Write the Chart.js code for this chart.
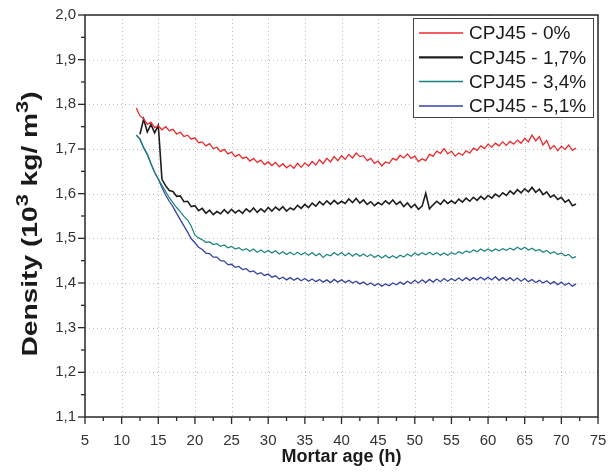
<!DOCTYPE html>
<html>
<head>
<meta charset="utf-8">
<script src="https://cdn.jsdelivr.net/npm/chart.js@4.4.0/dist/chart.umd.min.js"></script>
<style>
  html, body { margin: 0; padding: 0; background: #fff; }
</style>
</head>
<body>
<canvas id="densityChart" width="608" height="473"></canvas>
<script>
// mortar age (h)
const hours = [
  12, 12.5, 13, 13.5, 14, 14.5, 15, 15.5, 16, 16.5, 17, 17.5, 18, 18.5, 19, 19.5,
  20, 20.5, 21, 21.5, 22, 22.5, 23, 23.5, 24, 24.5, 25, 25.5, 26, 26.5, 27, 27.5,
  28, 28.5, 29, 29.5, 30, 30.5, 31, 31.5, 32, 32.5, 33, 33.5, 34, 34.5, 35, 35.5,
  36, 36.5, 37, 37.5, 38, 38.5, 39, 39.5, 40, 40.5, 41, 41.5, 42, 42.5, 43, 43.5,
  44, 44.5, 45, 45.5, 46, 46.5, 47, 47.5, 48, 48.5, 49, 49.5, 50, 50.5, 51, 51.5,
  52, 52.5, 53, 53.5, 54, 54.5, 55, 55.5, 56, 56.5, 57, 57.5, 58, 58.5, 59, 59.5,
  60, 60.5, 61, 61.5, 62, 62.5, 63, 63.5, 64, 64.5, 65, 65.5, 66, 66.5, 67, 67.5,
  68, 68.5, 69, 69.5, 70, 70.5, 71, 71.5, 72
];

// density (10^3 kg/m3)
const cpj0 = [
  1.792, 1.774, 1.768, 1.755, 1.760, 1.748, 1.752, 1.743, 1.750, 1.741, 1.744, 1.733, 1.738, 1.728, 1.731, 1.722,
  1.725, 1.714, 1.716, 1.707, 1.712, 1.701, 1.704, 1.694, 1.699, 1.689, 1.693, 1.683, 1.688, 1.679, 1.682, 1.673,
  1.679, 1.670, 1.675, 1.665, 1.671, 1.663, 1.670, 1.660, 1.667, 1.658, 1.664, 1.657, 1.668, 1.659, 1.669, 1.662,
  1.672, 1.664, 1.676, 1.667, 1.679, 1.671, 1.683, 1.674, 1.685, 1.677, 1.688, 1.680, 1.691, 1.683, 1.685, 1.674,
  1.679, 1.668, 1.673, 1.662, 1.671, 1.668, 1.679, 1.675, 1.686, 1.680, 1.689, 1.679, 1.684, 1.672, 1.678, 1.674,
  1.688, 1.684, 1.695, 1.690, 1.701, 1.689, 1.695, 1.684, 1.691, 1.686, 1.696, 1.691, 1.702, 1.697, 1.707, 1.701,
  1.711, 1.704, 1.713, 1.707, 1.716, 1.708, 1.717, 1.711, 1.720, 1.713, 1.724, 1.716, 1.731, 1.718, 1.728, 1.709,
  1.719, 1.700, 1.708, 1.696, 1.706, 1.699, 1.709, 1.697, 1.702
];
const cpj17 = [
  null, 1.733, 1.767, 1.738, 1.755, 1.736, 1.753, 1.632, 1.618, 1.607, 1.605, 1.594, 1.595, 1.582, 1.583, 1.571,
  1.573, 1.562, 1.567, 1.556, 1.563, 1.553, 1.560, 1.555, 1.564, 1.556, 1.565, 1.557, 1.563, 1.556, 1.566, 1.559,
  1.568, 1.558, 1.566, 1.559, 1.569, 1.561, 1.570, 1.563, 1.571, 1.561, 1.568, 1.564, 1.574, 1.567, 1.576, 1.569,
  1.579, 1.572, 1.582, 1.575, 1.584, 1.576, 1.585, 1.577, 1.583, 1.578, 1.588, 1.580, 1.589, 1.579, 1.586, 1.576,
  1.582, 1.573, 1.580, 1.575, 1.584, 1.577, 1.586, 1.576, 1.582, 1.571, 1.579, 1.569, 1.576, 1.565, 1.572, 1.601,
  1.566, 1.575, 1.583, 1.576, 1.586, 1.578, 1.584, 1.578, 1.588, 1.581, 1.590, 1.583, 1.592, 1.585, 1.594, 1.587,
  1.596, 1.590, 1.599, 1.593, 1.602, 1.596, 1.606, 1.599, 1.609, 1.602, 1.611, 1.604, 1.614, 1.603, 1.610, 1.598,
  1.604, 1.592, 1.597, 1.587, 1.592, 1.581, 1.586, 1.573, 1.577
];
const cpj34 = [
  1.731, 1.722, 1.703, 1.688, 1.667, 1.648, 1.633, 1.619, 1.605, 1.591, 1.580, 1.569, 1.560, 1.549, 1.541, 1.527,
  1.507, 1.501, 1.497, 1.491, 1.492, 1.486, 1.488, 1.482, 1.485, 1.479, 1.482, 1.476, 1.479, 1.473, 1.477, 1.471,
  1.476, 1.469, 1.474, 1.468, 1.473, 1.467, 1.472, 1.465, 1.470, 1.464, 1.469, 1.463, 1.469, 1.463, 1.468, 1.462,
  1.468, 1.461, 1.466, 1.457, 1.464, 1.461, 1.468, 1.462, 1.468, 1.461, 1.467, 1.460, 1.466, 1.460, 1.465, 1.459,
  1.464, 1.457, 1.462, 1.456, 1.462, 1.456, 1.461, 1.456, 1.462, 1.458, 1.465, 1.460, 1.467, 1.462, 1.468, 1.463,
  1.469, 1.463, 1.468, 1.462, 1.467, 1.462, 1.468, 1.464, 1.470, 1.466, 1.472, 1.468, 1.474, 1.470, 1.476, 1.471,
  1.476, 1.471, 1.476, 1.472, 1.477, 1.473, 1.478, 1.474, 1.480, 1.475, 1.480, 1.474, 1.478, 1.472, 1.475, 1.469,
  1.473, 1.466, 1.470, 1.464, 1.467, 1.461, 1.464, 1.456, 1.459
];
const cpj51 = [
  1.731, 1.722, 1.703, 1.688, 1.667, 1.648, 1.633, 1.614, 1.597, 1.583, 1.571, 1.556, 1.542, 1.528, 1.514, 1.499,
  1.490, 1.480, 1.475, 1.467, 1.466, 1.458, 1.458, 1.450, 1.449, 1.441, 1.442, 1.435, 1.437, 1.430, 1.432, 1.425,
  1.427, 1.420, 1.423, 1.417, 1.420, 1.413, 1.416, 1.409, 1.413, 1.407, 1.412, 1.406, 1.411, 1.405, 1.410, 1.404,
  1.409, 1.403, 1.408, 1.402, 1.407, 1.401, 1.408, 1.402, 1.407, 1.401, 1.406, 1.400, 1.404, 1.398, 1.402, 1.396,
  1.400, 1.394, 1.399, 1.393, 1.398, 1.394, 1.400, 1.396, 1.402, 1.397, 1.404, 1.399, 1.406, 1.400, 1.407, 1.401,
  1.408, 1.402, 1.409, 1.403, 1.410, 1.404, 1.410, 1.405, 1.411, 1.405, 1.412, 1.406, 1.412, 1.407, 1.413, 1.407,
  1.413, 1.407, 1.414, 1.406, 1.412, 1.406, 1.412, 1.405, 1.411, 1.404, 1.410, 1.403, 1.408, 1.401, 1.406, 1.400,
  1.405, 1.398, 1.403, 1.396, 1.402, 1.395, 1.400, 1.393, 1.398
];

const seriesLabels = ['CPJ45 - 0%', 'CPJ45 - 1,7%', 'CPJ45 - 3,4%', 'CPJ45 - 5,1%'];
const seriesColors = ['#ec2a2d', '#1e1e1e', '#17837b', '#3543a3'];
const seriesWidths = [1.3, 1.6, 1.2, 1.3];

const FONT = '"Liberation Sans", Arial, sans-serif';

function toPoints(values) {
  return hours.map((h, i) => ({ x: h, y: values[i] })).filter(p => p.y !== null);
}

// dotted grid, frame and tick marks (major + minor)
const gridFrame = {
  id: 'gridFrame',
  beforeDatasetsDraw(chart) {
    const { ctx, chartArea: a, scales: { x, y } } = chart;
    ctx.save();
    ctx.strokeStyle = '#bcbcbc';
    ctx.lineWidth = 1;
    ctx.setLineDash([1, 3]);
    x.ticks.forEach(t => {
      const px = Math.round(x.getPixelForValue(t.value)) + 0.5;
      ctx.beginPath(); ctx.moveTo(px, a.top); ctx.lineTo(px, a.bottom); ctx.stroke();
    });
    y.ticks.forEach(t => {
      const py = Math.round(y.getPixelForValue(t.value)) + 0.5;
      ctx.beginPath(); ctx.moveTo(a.left, py); ctx.lineTo(a.right, py); ctx.stroke();
    });
    ctx.restore();
  },
  afterDatasetsDraw(chart) {
    const { ctx, chartArea: a, scales: { x, y } } = chart;
    ctx.save();
    ctx.strokeStyle = '#2a2a2a';
    ctx.lineWidth = 1.5;
    ctx.strokeRect(a.left, a.top, a.right - a.left, a.bottom - a.top);

    ctx.lineWidth = 1.3;
    const xt = x.ticks.map(t => t.value);
    xt.forEach((v, i) => {
      const px = x.getPixelForValue(v);
      ctx.beginPath(); ctx.moveTo(px, a.bottom); ctx.lineTo(px, a.bottom + 7); ctx.stroke();
      if (i < xt.length - 1) {
        const pm = x.getPixelForValue((v + xt[i + 1]) / 2);
        ctx.beginPath(); ctx.moveTo(pm, a.bottom); ctx.lineTo(pm, a.bottom + 4); ctx.stroke();
      }
    });
    const yt = y.ticks.map(t => t.value);
    yt.forEach((v, i) => {
      const py = y.getPixelForValue(v);
      ctx.beginPath(); ctx.moveTo(a.left, py); ctx.lineTo(a.left - 7, py); ctx.stroke();
      if (i < yt.length - 1) {
        const pm = y.getPixelForValue((v + yt[i + 1]) / 2);
        ctx.beginPath(); ctx.moveTo(a.left, pm); ctx.lineTo(a.left - 4, pm); ctx.stroke();
      }
    });
    ctx.restore();
  }
};

// boxed legend in the top right corner of the plot
const boxLegend = {
  id: 'boxLegend',
  afterDraw(chart) {
    const { ctx, chartArea: a } = chart;
    const w = 180, h = 99;
    const left = a.right - 5 - w, top = a.top + 3;
    ctx.save();
    ctx.fillStyle = '#fff';
    ctx.fillRect(left, top, w, h);
    ctx.strokeStyle = '#444';
    ctx.lineWidth = 1;
    ctx.strokeRect(left + 0.5, top + 0.5, w, h);
    ctx.font = '19px ' + FONT;
    ctx.textBaseline = 'middle';
    ctx.fillStyle = '#1a1a1a';
    chart.data.datasets.forEach((ds, i) => {
      const cy = top + 15 + i * 24.3;
      ctx.strokeStyle = ds.borderColor;
      ctx.lineWidth = i === 1 ? 2.2 : 1.5;
      ctx.beginPath(); ctx.moveTo(left + 6, cy); ctx.lineTo(left + 50, cy); ctx.stroke();
      ctx.fillText(ds.label, left + 56, cy + 1);
    });
    ctx.restore();
  }
};

// y axis title with superscripts (stretched along its length like the source figure)
const yTitle = {
  id: 'yTitle',
  afterDraw(chart) {
    const { ctx, chartArea: a } = chart;
    const parts = [
      { t: 'Density (10', size: 22, rise: 0 },
      { t: '3', size: 17, rise: 8 },
      { t: ' kg/ m', size: 22, rise: 0 },
      { t: '3', size: 17, rise: 8 },
      { t: ')', size: 22, rise: 0 }
    ];
    ctx.save();
    let total = 0;
    parts.forEach(p => { ctx.font = 'bold ' + p.size + 'px ' + FONT; p.w = ctx.measureText(p.t).width; total += p.w; });
    ctx.translate(31, (a.top + a.bottom) / 2 + 8);
    ctx.rotate(-Math.PI / 2);
    ctx.scale(1.28, 1);
    ctx.fillStyle = '#1a1a1a';
    ctx.textBaseline = 'middle';
    let cx = -total / 2;
    parts.forEach(p => {
      ctx.font = 'bold ' + p.size + 'px ' + FONT;
      ctx.fillText(p.t, cx, -p.rise);
      cx += p.w;
    });
    ctx.restore();
  }
};

const chart = new Chart(document.getElementById('densityChart'), {
  type: 'line',
  data: {
    datasets: [cpj0, cpj17, cpj34, cpj51].map((vals, i) => ({
      label: seriesLabels[i],
      data: toPoints(vals),
      borderColor: seriesColors[i],
      borderWidth: seriesWidths[i],
      pointRadius: 0,
      tension: 0,
      fill: false
    }))
  },
  options: {
    responsive: false,
    animation: false,
    devicePixelRatio: 1,
    layout: { padding: { left: 0, right: 10, top: 15, bottom: 5 } },
    plugins: {
      legend: { display: false },
      tooltip: { enabled: false }
    },
    scales: {
      x: {
        type: 'linear',
        min: 5,
        max: 75,
        grid: { display: false, drawTicks: false },
        border: { display: false },
        afterFit: s => { s.height = 51; s.paddingLeft = 0; s.paddingRight = 0; },
        ticks: {
          stepSize: 5,
          padding: 15,
          color: '#333',
          font: { family: FONT, size: 15 },
          maxRotation: 0
        },
        title: {
          display: true,
          text: 'Mortar age (h)',
          color: '#1a1a1a',
          font: { family: FONT, size: 18, weight: 'bold' },
          padding: { top: 0, bottom: 0 }
        }
      },
      y: {
        min: 1.1,
        max: 2.0,
        grid: { display: false, drawTicks: false },
        border: { display: false },
        afterFit: s => { s.width = 85; s.paddingTop = 0; s.paddingBottom = 0; },
        ticks: {
          stepSize: 0.1,
          padding: 9,
          color: '#333',
          font: { family: FONT, size: 15 },
          callback: v => v.toFixed(1).replace('.', ',')
        }
      }
    }
  },
  plugins: [gridFrame, boxLegend, yTitle]
});
</script>
</body>
</html>
